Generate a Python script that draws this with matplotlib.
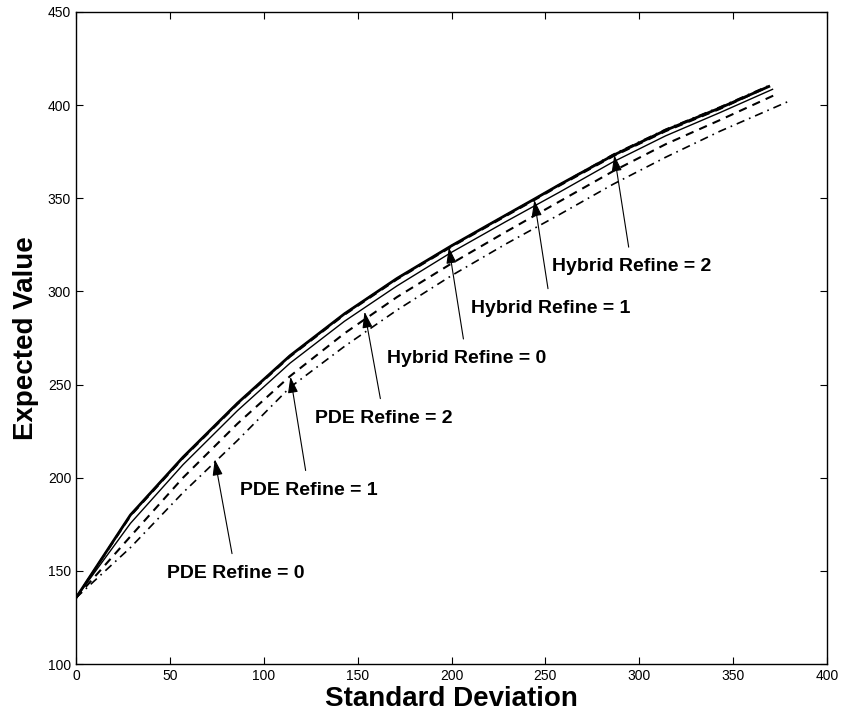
import matplotlib
matplotlib.use('Agg')
from matplotlib import pyplot as plt

plt.rcParams['font.family'] = ['Liberation Sans', 'DejaVu Sans']

# standard deviation points of the frontier curves
sd_hyb = [0, 29, 57, 86, 114, 143, 171, 200, 229, 244, 257, 286, 314, 343, 369]
hyb0 = [135.5, 180, 211, 240, 265.5, 288, 307, 324.5, 341, 349.5, 357, 373, 386.5, 398.5, 410]
hyb1 = [135.5, 179.5, 210.5, 239.5, 265, 287.5, 306.5, 324, 340.5, 349, 356.5, 372.5, 386, 398, 410]
hyb2 = [135.5, 180, 211, 240, 265.5, 288, 307, 324.5, 341, 349.5, 357, 373.5, 387, 399, 410.5]

sd_pde2 = [0, 29, 57, 86, 114, 143, 171, 200, 229, 257, 286, 314, 343, 371]
pde2 = [135.5, 175.5, 207, 236, 261.5, 284, 303, 321, 337.5, 353, 369.5, 383.5, 396, 408.5]

sd_pde1 = [0, 29, 57, 86, 114, 143, 171, 200, 229, 257, 286, 314, 343, 374]
pde1 = [135.5, 168.5, 200, 229, 254.5, 277.5, 297, 315, 332, 348, 364.5, 379, 392, 406.3]

sd_pde0 = [0, 29, 57, 86, 114, 143, 171, 200, 229, 257, 286, 314, 343, 379]
pde0 = [135.5, 162.5, 192, 220, 248.5, 270.5, 290, 308.5, 325.5, 341, 357.5, 372, 386, 401.8]

# annotation labels: text, text position, arrow tip
labels = ['PDE Refine = 0', 'PDE Refine = 1', 'PDE Refine = 2',
          'Hybrid Refine = 0', 'Hybrid Refine = 1', 'Hybrid Refine = 2']
text_xy = [(85, 148.8), (124, 193.4), (164, 232), (208, 264), (253, 291), (296, 313.3)]
tip_xy = [(73.9, 209.9), (114.2, 254.2), (153.7, 289.1), (198.6, 323.7), (244.1, 349.1), (286.7, 373.2)]

fig = plt.figure(figsize=(8.42, 7.15), dpi=100)
ax = fig.add_axes([76 / 842, 51 / 715, 751 / 842, 652 / 715])

ax.plot(sd_pde0, pde0, 'k-.', lw=1.2, dashes=(5, 3, 1, 3))
ax.plot(sd_pde1, pde1, 'k--', lw=1.5, dashes=(4, 3))
ax.plot(sd_pde2, pde2, 'k-', lw=1.0)
ax.plot(sd_hyb, hyb0, 'k-', lw=2.0)
ax.plot(sd_hyb, hyb1, 'k--', lw=1.5, dashes=(4, 3))
ax.plot(sd_hyb, hyb2, 'k-.', lw=1.2, dashes=(5, 3, 1, 3))

for txt, xy_t, xy_a in zip(labels, text_xy, tip_xy):
    ax.annotate(txt, xy=xy_a, xytext=xy_t, ha='center', va='center',
                fontsize=14, fontweight='bold',
                arrowprops=dict(arrowstyle='-|>,head_length=0.7,head_width=0.22',
                                color='k', lw=0.8, mutation_scale=14,
                                shrinkA=6, shrinkB=0))

ax.set_xlim(0, 400)
ax.set_ylim(100, 450)
ax.set_xticks(range(0, 401, 50))
ax.set_yticks(range(100, 451, 50))
ax.tick_params(direction='in', labelsize=10, length=5, top=True, right=True,
               labeltop=False, labelright=False)
for s in ax.spines.values():
    s.set_linewidth(1.0)

ax.set_xlabel('Standard Deviation', fontsize=20, fontweight='bold', labelpad=2)
ax.set_ylabel('Expected Value', fontsize=20, fontweight='bold', labelpad=6)

plt.savefig('out.png', dpi=100)
